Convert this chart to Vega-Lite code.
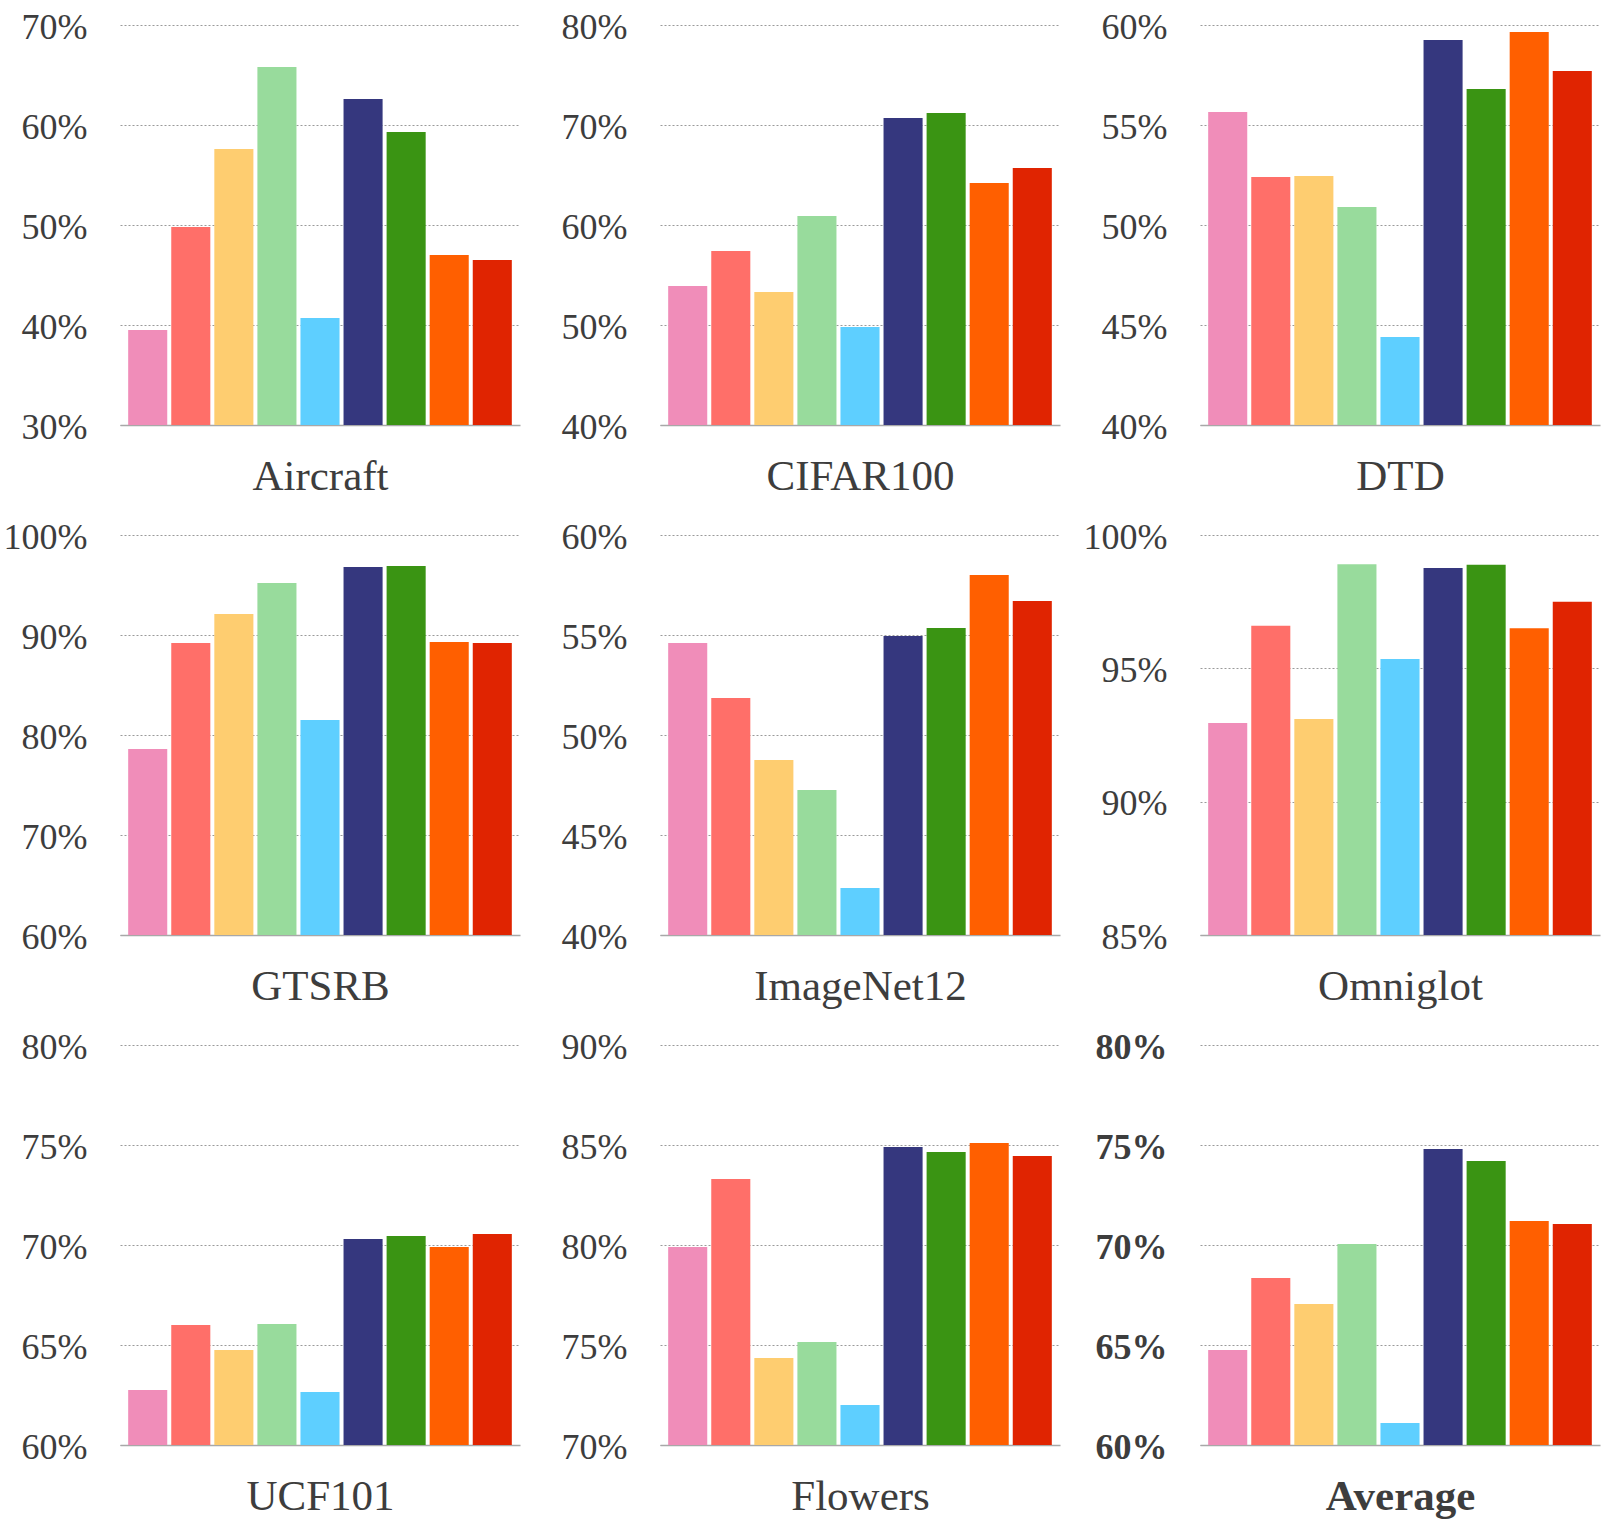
{
  "$schema": "https://vega.github.io/schema/vega-lite/v6.json",
  "background": "white",
  "padding": {"left": 3, "top": 9, "right": 5, "bottom": 5},
  "columns": 3,
  "spacing": {"row": 110, "column": 140},
  "bounds": "flush",
  "data": {
    "values": [
      {"dataset": "Aircraft", "method": "M1", "acc": 39.5},
      {"dataset": "Aircraft", "method": "M2", "acc": 49.8},
      {"dataset": "Aircraft", "method": "M3", "acc": 57.6},
      {"dataset": "Aircraft", "method": "M4", "acc": 65.8},
      {"dataset": "Aircraft", "method": "M5", "acc": 40.7},
      {"dataset": "Aircraft", "method": "M6", "acc": 62.6},
      {"dataset": "Aircraft", "method": "M7", "acc": 59.3},
      {"dataset": "Aircraft", "method": "M8", "acc": 47.0},
      {"dataset": "Aircraft", "method": "M9", "acc": 46.5},
      {"dataset": "CIFAR100", "method": "M1", "acc": 53.9},
      {"dataset": "CIFAR100", "method": "M2", "acc": 57.4},
      {"dataset": "CIFAR100", "method": "M3", "acc": 53.3},
      {"dataset": "CIFAR100", "method": "M4", "acc": 60.9},
      {"dataset": "CIFAR100", "method": "M5", "acc": 49.8},
      {"dataset": "CIFAR100", "method": "M6", "acc": 70.7},
      {"dataset": "CIFAR100", "method": "M7", "acc": 71.2},
      {"dataset": "CIFAR100", "method": "M8", "acc": 64.2},
      {"dataset": "CIFAR100", "method": "M9", "acc": 65.7},
      {"dataset": "DTD", "method": "M1", "acc": 55.65},
      {"dataset": "DTD", "method": "M2", "acc": 52.4},
      {"dataset": "DTD", "method": "M3", "acc": 52.45},
      {"dataset": "DTD", "method": "M4", "acc": 50.9},
      {"dataset": "DTD", "method": "M5", "acc": 44.4},
      {"dataset": "DTD", "method": "M6", "acc": 59.25},
      {"dataset": "DTD", "method": "M7", "acc": 56.8},
      {"dataset": "DTD", "method": "M8", "acc": 59.65},
      {"dataset": "DTD", "method": "M9", "acc": 57.7},
      {"dataset": "GTSRB", "method": "M1", "acc": 78.6},
      {"dataset": "GTSRB", "method": "M2", "acc": 89.2},
      {"dataset": "GTSRB", "method": "M3", "acc": 92.1},
      {"dataset": "GTSRB", "method": "M4", "acc": 95.2},
      {"dataset": "GTSRB", "method": "M5", "acc": 81.5},
      {"dataset": "GTSRB", "method": "M6", "acc": 96.8},
      {"dataset": "GTSRB", "method": "M7", "acc": 96.9},
      {"dataset": "GTSRB", "method": "M8", "acc": 89.3},
      {"dataset": "GTSRB", "method": "M9", "acc": 89.2},
      {"dataset": "ImageNet12", "method": "M1", "acc": 54.6},
      {"dataset": "ImageNet12", "method": "M2", "acc": 51.85},
      {"dataset": "ImageNet12", "method": "M3", "acc": 48.75},
      {"dataset": "ImageNet12", "method": "M4", "acc": 47.25},
      {"dataset": "ImageNet12", "method": "M5", "acc": 42.35},
      {"dataset": "ImageNet12", "method": "M6", "acc": 54.95},
      {"dataset": "ImageNet12", "method": "M7", "acc": 55.35},
      {"dataset": "ImageNet12", "method": "M8", "acc": 58.0},
      {"dataset": "ImageNet12", "method": "M9", "acc": 56.7},
      {"dataset": "Omniglot", "method": "M1", "acc": 92.95},
      {"dataset": "Omniglot", "method": "M2", "acc": 96.6},
      {"dataset": "Omniglot", "method": "M3", "acc": 93.1},
      {"dataset": "Omniglot", "method": "M4", "acc": 98.9},
      {"dataset": "Omniglot", "method": "M5", "acc": 95.35},
      {"dataset": "Omniglot", "method": "M6", "acc": 98.76},
      {"dataset": "Omniglot", "method": "M7", "acc": 98.88},
      {"dataset": "Omniglot", "method": "M8", "acc": 96.5},
      {"dataset": "Omniglot", "method": "M9", "acc": 97.5},
      {"dataset": "UCF101", "method": "M1", "acc": 62.75},
      {"dataset": "UCF101", "method": "M2", "acc": 66.0},
      {"dataset": "UCF101", "method": "M3", "acc": 64.75},
      {"dataset": "UCF101", "method": "M4", "acc": 66.05},
      {"dataset": "UCF101", "method": "M5", "acc": 62.65},
      {"dataset": "UCF101", "method": "M6", "acc": 70.3},
      {"dataset": "UCF101", "method": "M7", "acc": 70.45},
      {"dataset": "UCF101", "method": "M8", "acc": 69.9},
      {"dataset": "UCF101", "method": "M9", "acc": 70.55},
      {"dataset": "Flowers", "method": "M1", "acc": 79.9},
      {"dataset": "Flowers", "method": "M2", "acc": 83.3},
      {"dataset": "Flowers", "method": "M3", "acc": 74.35},
      {"dataset": "Flowers", "method": "M4", "acc": 75.15},
      {"dataset": "Flowers", "method": "M5", "acc": 72.0},
      {"dataset": "Flowers", "method": "M6", "acc": 84.9},
      {"dataset": "Flowers", "method": "M7", "acc": 84.65},
      {"dataset": "Flowers", "method": "M8", "acc": 85.1},
      {"dataset": "Flowers", "method": "M9", "acc": 84.45},
      {"dataset": "Average", "method": "M1", "acc": 64.75},
      {"dataset": "Average", "method": "M2", "acc": 68.35},
      {"dataset": "Average", "method": "M3", "acc": 67.05},
      {"dataset": "Average", "method": "M4", "acc": 70.05},
      {"dataset": "Average", "method": "M5", "acc": 61.1},
      {"dataset": "Average", "method": "M6", "acc": 74.8},
      {"dataset": "Average", "method": "M7", "acc": 74.2},
      {"dataset": "Average", "method": "M8", "acc": 71.2},
      {"dataset": "Average", "method": "M9", "acc": 71.05}
    ]
  },
  "concat": [
    {
      "width": 400, "height": 400,
      "transform": [{"filter": "datum.dataset === 'Aircraft'"}],
      "mark": {"type": "bar", "clip": true},
      "encoding": {
        "x": {"field": "method", "type": "nominal", "scale": {"paddingInner": 0.093, "paddingOuter": 0.19}, "axis": {"title": "Aircraft"}},
        "y": {"field": "acc", "type": "quantitative", "scale": {"domain": [30, 70], "nice": false, "zero": false}, "axis": {"values": [30, 40, 50, 60, 70], "title": null}},
        "color": {"field": "method", "type": "nominal", "legend": null, "scale": {"domain": ["M1", "M2", "M3", "M4", "M5", "M6", "M7", "M8", "M9"], "range": ["#F08DB9", "#FF6F69", "#FECD70", "#98DB9C", "#5ECFFF", "#35377E", "#3A9413", "#FF5F00", "#E02401"]}}
      }
    },
    {
      "width": 400, "height": 400,
      "transform": [{"filter": "datum.dataset === 'CIFAR100'"}],
      "mark": {"type": "bar", "clip": true},
      "encoding": {
        "x": {"field": "method", "type": "nominal", "scale": {"paddingInner": 0.093, "paddingOuter": 0.19}, "axis": {"title": "CIFAR100"}},
        "y": {"field": "acc", "type": "quantitative", "scale": {"domain": [40, 80], "nice": false, "zero": false}, "axis": {"values": [40, 50, 60, 70, 80], "title": null}},
        "color": {"field": "method", "type": "nominal", "legend": null, "scale": {"domain": ["M1", "M2", "M3", "M4", "M5", "M6", "M7", "M8", "M9"], "range": ["#F08DB9", "#FF6F69", "#FECD70", "#98DB9C", "#5ECFFF", "#35377E", "#3A9413", "#FF5F00", "#E02401"]}}
      }
    },
    {
      "width": 400, "height": 400,
      "transform": [{"filter": "datum.dataset === 'DTD'"}],
      "mark": {"type": "bar", "clip": true},
      "encoding": {
        "x": {"field": "method", "type": "nominal", "scale": {"paddingInner": 0.093, "paddingOuter": 0.19}, "axis": {"title": "DTD"}},
        "y": {"field": "acc", "type": "quantitative", "scale": {"domain": [40, 60], "nice": false, "zero": false}, "axis": {"values": [40, 45, 50, 55, 60], "title": null}},
        "color": {"field": "method", "type": "nominal", "legend": null, "scale": {"domain": ["M1", "M2", "M3", "M4", "M5", "M6", "M7", "M8", "M9"], "range": ["#F08DB9", "#FF6F69", "#FECD70", "#98DB9C", "#5ECFFF", "#35377E", "#3A9413", "#FF5F00", "#E02401"]}}
      }
    },
    {
      "width": 400, "height": 400,
      "transform": [{"filter": "datum.dataset === 'GTSRB'"}],
      "mark": {"type": "bar", "clip": true},
      "encoding": {
        "x": {"field": "method", "type": "nominal", "scale": {"paddingInner": 0.093, "paddingOuter": 0.19}, "axis": {"title": "GTSRB"}},
        "y": {"field": "acc", "type": "quantitative", "scale": {"domain": [60, 100], "nice": false, "zero": false}, "axis": {"values": [60, 70, 80, 90, 100], "title": null}},
        "color": {"field": "method", "type": "nominal", "legend": null, "scale": {"domain": ["M1", "M2", "M3", "M4", "M5", "M6", "M7", "M8", "M9"], "range": ["#F08DB9", "#FF6F69", "#FECD70", "#98DB9C", "#5ECFFF", "#35377E", "#3A9413", "#FF5F00", "#E02401"]}}
      }
    },
    {
      "width": 400, "height": 400,
      "transform": [{"filter": "datum.dataset === 'ImageNet12'"}],
      "mark": {"type": "bar", "clip": true},
      "encoding": {
        "x": {"field": "method", "type": "nominal", "scale": {"paddingInner": 0.093, "paddingOuter": 0.19}, "axis": {"title": "ImageNet12"}},
        "y": {"field": "acc", "type": "quantitative", "scale": {"domain": [40, 60], "nice": false, "zero": false}, "axis": {"values": [40, 45, 50, 55, 60], "title": null}},
        "color": {"field": "method", "type": "nominal", "legend": null, "scale": {"domain": ["M1", "M2", "M3", "M4", "M5", "M6", "M7", "M8", "M9"], "range": ["#F08DB9", "#FF6F69", "#FECD70", "#98DB9C", "#5ECFFF", "#35377E", "#3A9413", "#FF5F00", "#E02401"]}}
      }
    },
    {
      "width": 400, "height": 400,
      "transform": [{"filter": "datum.dataset === 'Omniglot'"}],
      "mark": {"type": "bar", "clip": true},
      "encoding": {
        "x": {"field": "method", "type": "nominal", "scale": {"paddingInner": 0.093, "paddingOuter": 0.19}, "axis": {"title": "Omniglot"}},
        "y": {"field": "acc", "type": "quantitative", "scale": {"domain": [85, 100], "nice": false, "zero": false}, "axis": {"values": [85, 90, 95, 100], "title": null}},
        "color": {"field": "method", "type": "nominal", "legend": null, "scale": {"domain": ["M1", "M2", "M3", "M4", "M5", "M6", "M7", "M8", "M9"], "range": ["#F08DB9", "#FF6F69", "#FECD70", "#98DB9C", "#5ECFFF", "#35377E", "#3A9413", "#FF5F00", "#E02401"]}}
      }
    },
    {
      "width": 400, "height": 400,
      "transform": [{"filter": "datum.dataset === 'UCF101'"}],
      "mark": {"type": "bar", "clip": true},
      "encoding": {
        "x": {"field": "method", "type": "nominal", "scale": {"paddingInner": 0.093, "paddingOuter": 0.19}, "axis": {"title": "UCF101"}},
        "y": {"field": "acc", "type": "quantitative", "scale": {"domain": [60, 80], "nice": false, "zero": false}, "axis": {"values": [60, 65, 70, 75, 80], "title": null}},
        "color": {"field": "method", "type": "nominal", "legend": null, "scale": {"domain": ["M1", "M2", "M3", "M4", "M5", "M6", "M7", "M8", "M9"], "range": ["#F08DB9", "#FF6F69", "#FECD70", "#98DB9C", "#5ECFFF", "#35377E", "#3A9413", "#FF5F00", "#E02401"]}}
      }
    },
    {
      "width": 400, "height": 400,
      "transform": [{"filter": "datum.dataset === 'Flowers'"}],
      "mark": {"type": "bar", "clip": true},
      "encoding": {
        "x": {"field": "method", "type": "nominal", "scale": {"paddingInner": 0.093, "paddingOuter": 0.19}, "axis": {"title": "Flowers"}},
        "y": {"field": "acc", "type": "quantitative", "scale": {"domain": [70, 90], "nice": false, "zero": false}, "axis": {"values": [70, 75, 80, 85, 90], "title": null}},
        "color": {"field": "method", "type": "nominal", "legend": null, "scale": {"domain": ["M1", "M2", "M3", "M4", "M5", "M6", "M7", "M8", "M9"], "range": ["#F08DB9", "#FF6F69", "#FECD70", "#98DB9C", "#5ECFFF", "#35377E", "#3A9413", "#FF5F00", "#E02401"]}}
      }
    },
    {
      "width": 400, "height": 400,
      "transform": [{"filter": "datum.dataset === 'Average'"}],
      "mark": {"type": "bar", "clip": true},
      "encoding": {
        "x": {"field": "method", "type": "nominal", "scale": {"paddingInner": 0.093, "paddingOuter": 0.19}, "axis": {"title": "Average", "titleFontWeight": "bold"}},
        "y": {"field": "acc", "type": "quantitative", "scale": {"domain": [60, 80], "nice": false, "zero": false}, "axis": {"values": [60, 65, 70, 75, 80], "title": null, "labelFontWeight": "bold"}},
        "color": {"field": "method", "type": "nominal", "legend": null, "scale": {"domain": ["M1", "M2", "M3", "M4", "M5", "M6", "M7", "M8", "M9"], "range": ["#F08DB9", "#FF6F69", "#FECD70", "#98DB9C", "#5ECFFF", "#35377E", "#3A9413", "#FF5F00", "#E02401"]}}
      }
    }
  ],
  "config": {
    "font": "Liberation Serif",
    "view": {"stroke": null},
    "axis": {
      "labelFont": "Liberation Serif",
      "titleFont": "Liberation Serif"
    },
    "axisX": {
      "labels": false,
      "ticks": false,
      "grid": false,
      "domainColor": "#a8a8a8",
      "domainWidth": 1.5,
      "titleFont": "Liberation Serif",
      "titleFontSize": 43,
      "titleFontWeight": "normal",
      "titleColor": "#3d3d3d",
      "titleBaseline": "alphabetic",
      "titlePadding": 64
    },
    "axisY": {
      "domain": false,
      "ticks": false,
      "grid": true,
      "gridColor": "#9a9a9a",
      "gridDash": [2, 2],
      "gridWidth": 1,
      "labelFont": "Liberation Serif",
      "labelFontSize": 36,
      "labelColor": "#3d3d3d",
      "labelPadding": 33,
      "labelOffset": 2,
      "labelExpr": "datum.value + '%'"
    }
  }
}
